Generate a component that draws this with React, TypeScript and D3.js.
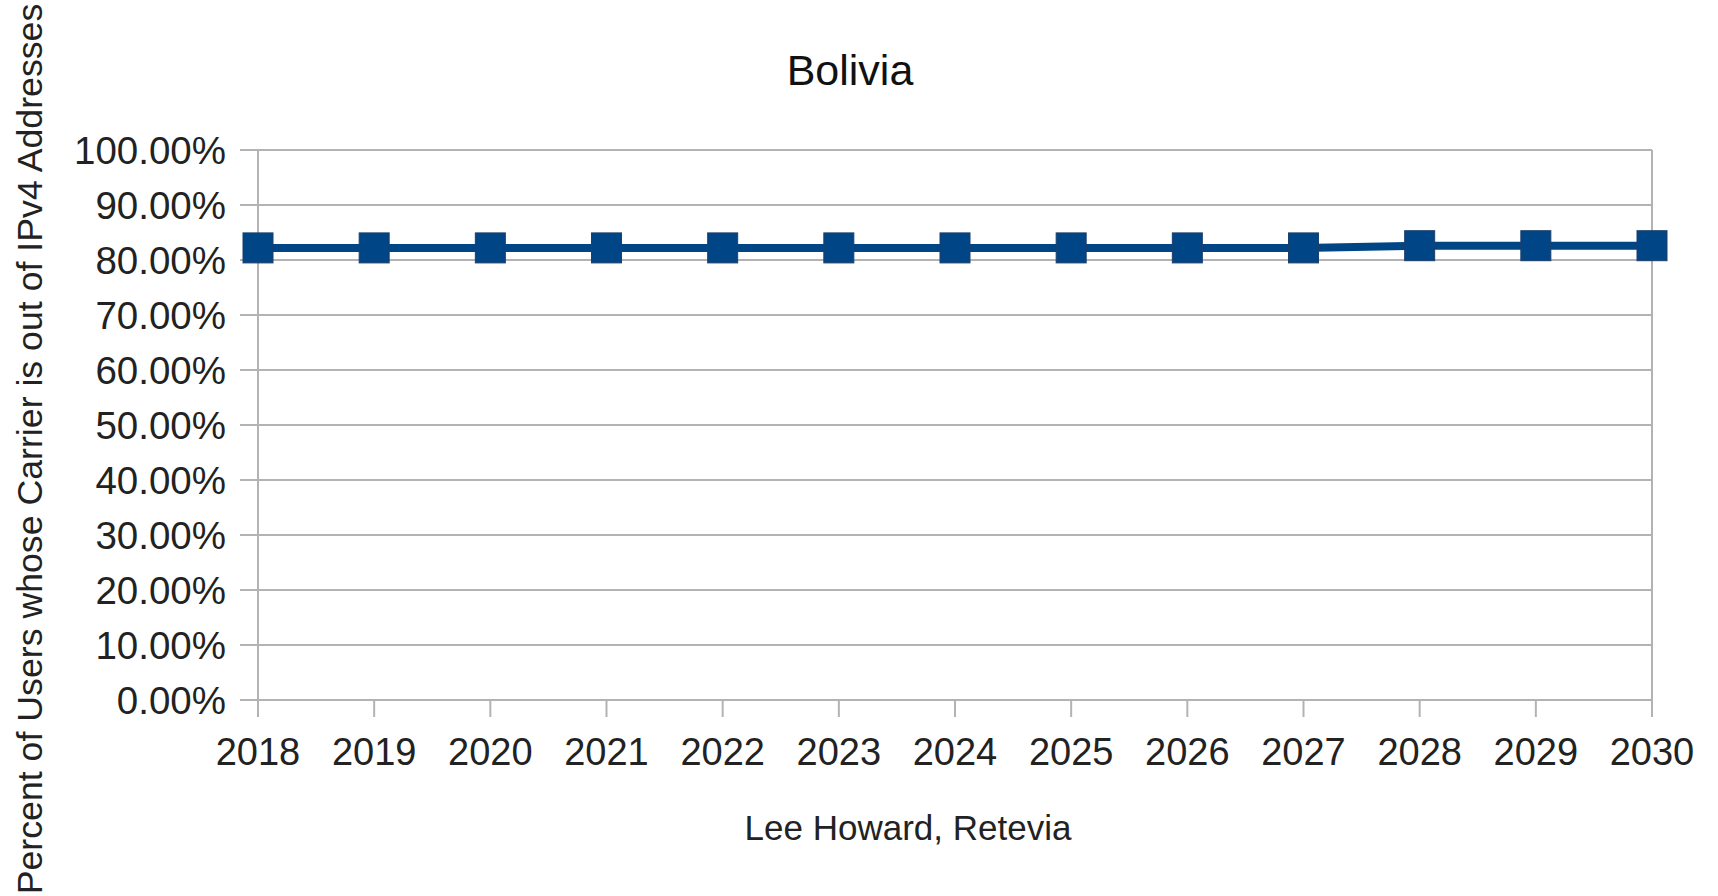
import React from "react";
import * as d3 from "d3";

const years: number[] = [2018, 2019, 2020, 2021, 2022, 2023, 2024, 2025, 2026, 2027, 2028, 2029, 2030];
const shareOutOfIPv4: number[] = [0.822, 0.822, 0.822, 0.822, 0.822, 0.822, 0.822, 0.822, 0.822, 0.822, 0.826, 0.826, 0.826];
const yTicks: number[] = [0, 0.1, 0.2, 0.3, 0.4, 0.5, 0.6, 0.7, 0.8, 0.9, 1.0];
const titleText = "Bolivia";
const yAxisTitle = "Percent of Users whose Carrier is out of IPv4 Addresses";
const xAxisTitle = "Lee Howard, Retevia";

const W = 1718;
const H = 896;
const FONT = "'Liberation Sans', Arial, sans-serif";
const SERIES_COLOR = "#004586";
const GRID_COLOR = "#b3b3b3";

export default function App() {
  const x = d3.scaleLinear().domain([2018, 2030]).range([258, 1652]);
  const y = d3.scaleLinear().domain([0, 1]).range([700, 150]);
  const fmt = d3.format(".2%");

  const points = years.map((yr, i) => ({ yr, v: shareOutOfIPv4[i] }));
  const line = d3
    .line<{ yr: number; v: number }>()
    .x((d) => x(d.yr))
    .y((d) => y(d.v));

  const marker = 30;

  return (
    <svg
      width={W}
      height={H}
      viewBox={`0 0 ${W} ${H}`}
      style={{ position: "absolute", left: 0, top: 0, background: "#fff" }}
      fontFamily={FONT}
    >
      <rect x={0} y={0} width={W} height={H} fill="#fff" />

      {/* horizontal grid lines with left tick stubs */}
      {yTicks.map((t) => (
        <line
          key={`g${t}`}
          x1={240}
          x2={x(2030)}
          y1={y(t)}
          y2={y(t)}
          stroke={GRID_COLOR}
          strokeWidth={2}
        />
      ))}

      {/* y axis line */}
      <line x1={x(2018)} x2={x(2018)} y1={y(1)} y2={y(0)} stroke={GRID_COLOR} strokeWidth={2} />
      {/* right border */}
      <line x1={x(2030)} x2={x(2030)} y1={y(1)} y2={y(0)} stroke={GRID_COLOR} strokeWidth={2} />

      {/* x ticks */}
      {years.map((yr) => (
        <line
          key={`t${yr}`}
          x1={x(yr)}
          x2={x(yr)}
          y1={y(0)}
          y2={y(0) + 17}
          stroke={GRID_COLOR}
          strokeWidth={2}
        />
      ))}

      {/* y tick labels */}
      {yTicks.map((t) => (
        <text
          key={`yl${t}`}
          x={226}
          y={y(t) + 14}
          textAnchor="end"
          fontSize={38.5}
          fill="#222"
        >
          {fmt(t)}
        </text>
      ))}

      {/* x tick labels */}
      {years.map((yr) => (
        <text
          key={`xl${yr}`}
          x={x(yr)}
          y={765}
          textAnchor="middle"
          fontSize={38}
          fill="#222"
        >
          {yr}
        </text>
      ))}

      {/* series line */}
      <path
        d={line(points) || ""}
        fill="none"
        stroke={SERIES_COLOR}
        strokeWidth={8}
        strokeLinejoin="round"
      />

      {/* square markers */}
      {points.map((p) => (
        <rect
          key={`m${p.yr}`}
          x={x(p.yr) - marker / 2}
          y={y(p.v) - marker / 2}
          width={marker}
          height={marker}
          fill={SERIES_COLOR}
          stroke="#1f3f6a"
          strokeWidth={1}
        />
      ))}

      {/* titles */}
      <text x={850} y={85} textAnchor="middle" fontSize={43} fill="#111">
        {titleText}
      </text>
      <text x={908} y={840} textAnchor="middle" fontSize={35} fill="#222">
        {xAxisTitle}
      </text>
      <text
        transform={`translate(42, 449) rotate(-90)`}
        textAnchor="middle"
        fontSize={35.7}
        fill="#222"
      >
        {yAxisTitle}
      </text>
    </svg>
  );
}
